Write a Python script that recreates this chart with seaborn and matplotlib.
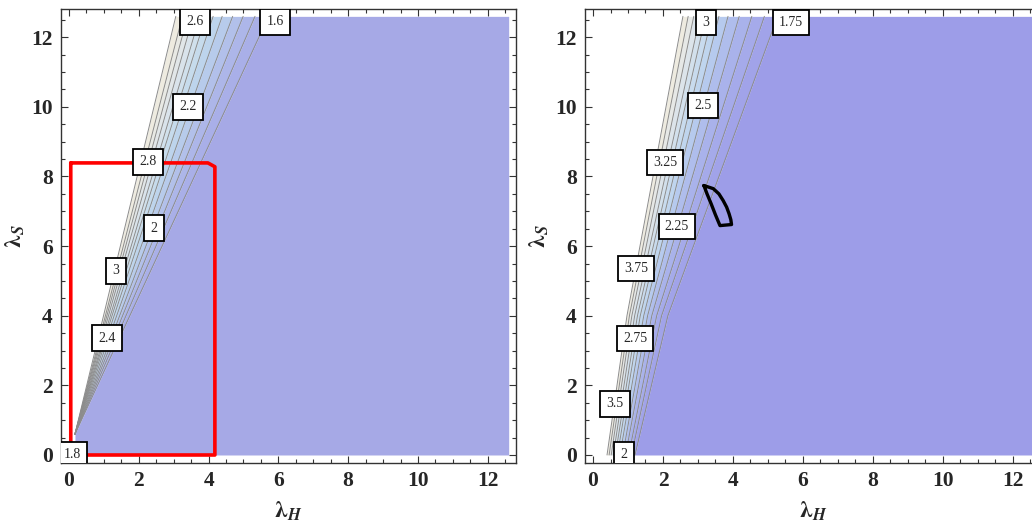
import numpy as np
import matplotlib
matplotlib.use("Agg")
import matplotlib.pyplot as plt
import seaborn as sns
from matplotlib.ticker import MultipleLocator

# ---------------- data ----------------
# Left panel: contour lines are straight rays from a common base point
left_base = (0.17, 0.6)
left_top_y = 12.6
left_top_x = [3.06, 3.25, 3.40, 3.56, 3.75, 3.92, 4.13, 4.39, 4.69, 4.99, 5.33, 5.72]
left_labels = ["2.6", "1.6", "2.2", "2.8", "2", "3", "2.4", "1.8"]
left_label_x = [3.60, 5.90, 3.41, 2.26, 2.44, 1.35, 1.09, 0.09]
left_label_y = [12.44, 12.44, 10.0, 8.42, 6.52, 5.29, 3.36, 0.0]
box_x = [0.05, 3.98, 4.18, 4.18, 0.05, 0.05]
box_y = [8.39, 8.39, 8.28, 0.0, 0.0, 8.39]

# Right panel: contour lines given at three heights
right_y = [0.0, 4.0, 12.6]
right_x0 = [0.40, 0.46, 0.52, 0.58, 0.64, 0.70, 0.77, 0.85, 0.93, 1.02, 1.10, 1.20]
right_x4 = [0.97, 1.04, 1.11, 1.19, 1.27, 1.35, 1.45, 1.56, 1.68, 1.82, 1.96, 2.14]
right_x12 = [2.57, 2.72, 2.88, 3.06, 3.22, 3.40, 3.60, 3.86, 4.18, 4.54, 4.90, 5.28]
right_labels = ["3", "1.75", "2.5", "3.25", "2.25", "3.75", "2.75", "3.5", "2"]
right_label_x = [3.23, 5.66, 3.14, 2.06, 2.40, 1.23, 1.20, 0.63, 0.89]
right_label_y = [12.43, 12.43, 10.04, 8.40, 6.56, 5.35, 3.34, 1.47, 0.0]
curve_x = [3.17, 3.44, 3.60, 3.72, 3.82, 3.89, 3.94, 3.96, 3.63, 3.50, 3.38, 3.26, 3.17]
curve_y = [7.74, 7.65, 7.50, 7.31, 7.12, 6.93, 6.76, 6.62, 6.59, 6.90, 7.21, 7.50, 7.74]

XMAX = 12.6
YMAX = 12.6

# ---------------- style ----------------
sns.set_style("ticks")
plt.rcParams["font.family"] = ["Liberation Serif", "DejaVu Serif"]
plt.rcParams["mathtext.fontset"] = "stix"

left_colors = ["#EEEBE0", "#E8E9E4", "#E1E6E8", "#D9E3EB", "#D0E0EC", "#C6DBEC",
               "#BDD4EC", "#B7CBEB", "#B2C0EA", "#ADB6E9", "#A9AFE8"]
left_purple = "#A6A9E6"
right_colors = ["#EEEBE0", "#E6E8E6", "#DCE4EA", "#D2E0EC", "#C8DBEE", "#BFD5EE",
                "#B6CAEE", "#AFBDEC", "#A9B2EB", "#A5AAEA", "#A1A3E9"]
right_purple = "#9D9DE8"
line_col = "#8C8C8C"

fig = plt.figure(figsize=(10.32, 5.24), dpi=100)
axL = fig.add_axes([61 / 1032, 61 / 524, 455 / 1032, 454.3 / 524])
axR = fig.add_axes([585 / 1032, 61 / 524, 456 / 1032, 454.3 / 524])


def style_axis(ax):
    ax.set_xlim(-0.23, 12.81)
    ax.set_ylim(-0.23, 12.82)
    ax.xaxis.set_major_locator(MultipleLocator(2))
    ax.yaxis.set_major_locator(MultipleLocator(2))
    ax.xaxis.set_minor_locator(MultipleLocator(0.5))
    ax.yaxis.set_minor_locator(MultipleLocator(0.5))
    ax.tick_params(which="both", direction="in", top=True, right=True,
                   color="#333333", width=0.8)
    ax.tick_params(which="major", length=5, labelsize=15.5, pad=6)
    ax.tick_params(which="minor", length=3)
    for lab in ax.get_xticklabels() + ax.get_yticklabels():
        lab.set_fontweight("bold")
    for s in ax.spines.values():
        s.set_color("#333333")
        s.set_linewidth(1.0)
    ax.set_xlabel(r"$\boldsymbol{\lambda}_{\boldsymbol{H}}$", fontsize=17, labelpad=6)
    ax.set_ylabel(r"$\boldsymbol{\lambda}_{\boldsymbol{S}}$", fontsize=17, labelpad=3)


def add_labels(ax, labels, xs, ys):
    for t, x, y in zip(labels, xs, ys):
        txt = ax.text(x, y, t, fontsize=10, ha="center", va="center", zorder=6,
                      bbox=dict(boxstyle="square,pad=0.45", fc="white",
                                ec="black", lw=1.3))
        txt.set_clip_on(True)


# ---------------- left panel ----------------
bx, by = left_base
ys = np.array([by, left_top_y])
lines_L = [np.array([bx, xt]) for xt in left_top_x]
for i in range(len(lines_L) - 1):
    axL.fill_betweenx(ys, lines_L[i], lines_L[i + 1], color=left_colors[i], lw=0, zorder=1)
axL.fill_betweenx([0.0, by, left_top_y], [bx, bx, left_top_x[-1]], XMAX,
                  color=left_purple, lw=0, zorder=1)
for xl in lines_L:
    sns.lineplot(x=xl, y=ys, ax=axL, color=line_col, lw=0.7, sort=False,
                 estimator=None, zorder=2)
sns.lineplot(x=box_x, y=box_y, ax=axL, color="#FF0000", lw=2.6, sort=False,
             estimator=None, zorder=5)
add_labels(axL, left_labels, left_label_x, left_label_y)
style_axis(axL)

# ---------------- right panel ----------------
lines_R = [np.array([a, b, c]) for a, b, c in zip(right_x0, right_x4, right_x12)]
for i in range(len(lines_R) - 1):
    axR.fill_betweenx(right_y, lines_R[i], lines_R[i + 1], color=right_colors[i], lw=0, zorder=1)
axR.fill_betweenx(right_y, lines_R[-1], XMAX, color=right_purple, lw=0, zorder=1)
for xl in lines_R:
    sns.lineplot(x=xl, y=right_y, ax=axR, color=line_col, lw=0.7, sort=False,
                 estimator=None, zorder=2)
sns.lineplot(x=curve_x, y=curve_y, ax=axR, color="black", lw=2.4, sort=False,
             estimator=None, zorder=5)
add_labels(axR, right_labels, right_label_x, right_label_y)
style_axis(axR)

fig.savefig("out.png", dpi=100)
